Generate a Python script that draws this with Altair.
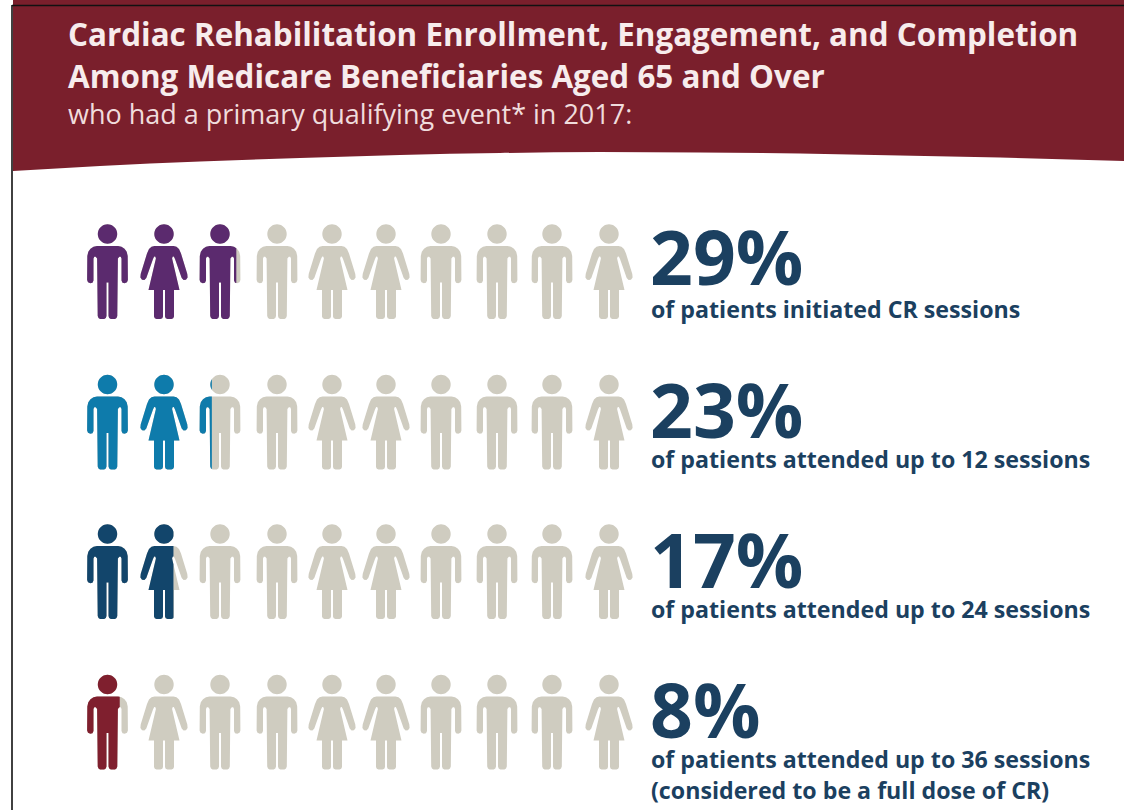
import math
import altair as alt
import pandas as pd

# ---- content ----
TITLE_LINES = [
    "Cardiac Rehabilitation Enrollment, Engagement, and Completion",
    "Among Medicare Beneficiaries Aged 65 and Over",
]
SUBTITLE = "who had a primary qualifying event* in 2017:"
PERCENTS = [29, 23, 17, 8]
CAPTIONS = [
    "of patients initiated CR sessions",
    "of patients attended up to 12 sessions",
    "of patients attended up to 24 sessions",
    "of patients attended up to 36 sessions",
]
EXTRA_CAPTION = "(considered to be a full dose of CR)"
GENDERS = ["m", "f", "m", "m", "f", "f", "m", "m", "m", "f"]
ROW_KEYS = ["a", "b", "c", "d"]
ROW_COLORS = ["#5b2a6e", "#0e7bab", "#12456b", "#7f1f2e"]

# ---- palette and layout ----
BANNER = "#7a1f2c"
IDLE = "#cfccc0"
INK = "#1b4060"
FONT = "Open Sans"
W, H = 1124, 810
COL_X = [107.5, 164, 220, 277, 332, 386, 441, 497, 552, 609]
ROW_Y = [271.5, 422, 571.5, 722]
NUMBER_BASE = [285, 438, 588, 738]
CAPTION_BASE = [318, 468, 618, 768]
BANNER_X = [13, 100, 200, 300, 400, 500, 600, 700, 800, 900, 1000, 1124]
BANNER_EDGE = [171, 166, 161.5, 158, 155, 153, 152, 152.5, 153.5, 155.5, 157.5, 161]

# ---- pictogram outlines, in pixels around the figure's centre ----
def mirrored(half):
    return half + [(-x, y) for x, y in reversed(half) if x != 0]

HEAD = [(9.7 * math.cos(i * math.pi / 20), -37.5 + 9.7 * math.sin(i * math.pi / 20)) for i in range(40)]
MALE = mirrored([
    (0, -25.5), (10.5, -25.5), (14, -24.8), (17, -22.8), (19.2, -19.8), (20.2, -15.5), (20.4, 8.5),
    (19.5, 10.8), (17.2, 11.8), (15, 11.2), (14, 9), (14, -13), (13.2, -14.8), (11.8, -14.8),
    (10.4, -13), (9.8, 44.5), (9, 46.6), (7.5, 47.5), (3.3, 47.5), (1.7, 46.6), (1, 44.5), (1, 11), (0, 11),
])
FEMALE = mirrored([
    (0, -25.5), (9.5, -25.5), (12.5, -24.8), (15, -22.5), (17, -18), (23.3, 2.5), (23.6, 6), (22, 8.3),
    (19.6, 8.5), (17.7, 6.5), (11, -12.5), (9.8, -15), (8.6, -14.8), (8.1, -13), (15.5, 18.5), (10, 18.5),
    (10, 45), (9.2, 46.8), (7.5, 47.5), (3.5, 47.5), (1.7, 46.8), (1, 45), (1, 18.5), (0, 18.5),
])
OUTLINES = {"m": MALE, "f": FEMALE}


def clip_right(poly, limit):
    """Keep the part of a polygon to the left of a vertical line."""
    kept = []
    for i, (x0, y0) in enumerate(poly):
        x1, y1 = poly[(i + 1) % len(poly)]
        if x0 <= limit:
            kept.append((x0, y0))
        if (x0 <= limit) != (x1 <= limit):
            t = (limit - x0) / (x1 - x0)
            kept.append((limit, y0 + t * (y1 - y0)))
    return kept


def to_path(polys):
    parts = []
    for poly in polys:
        if poly:
            parts.append("M" + "L".join(f"{x:.2f} {y:.2f}" for x, y in poly) + "Z")
    return "".join(parts)


def figure_path(gender, share):
    body = OUTLINES[gender]
    reach = max(x for x, _ in body)
    limit = -reach + 2 * reach * share
    return to_path([clip_right(HEAD, limit), clip_right(body, limit)])


# ---- one idle figure per seat, with the coloured share of each row on top ----
idle, lit = [], []
for r, (row, pct) in enumerate(zip(ROW_KEYS, PERCENTS)):
    for col, gender in enumerate(GENDERS):
        idle.append({"col": col, "r": r, "row": row, "path": figure_path(gender, 1.0)})
        share = min(max(pct / 10 - col, 0), 1)
        if share > 0:
            lit.append({"col": col, "r": r, "row": row, "path": figure_path(gender, share)})

x_col = alt.X("col:Q", axis=None, scale=alt.Scale(domain=list(range(10)), range=COL_X))
y_row = alt.Y("r:Q", axis=None, scale=alt.Scale(domain=list(range(4)), range=ROW_Y))

idle_layer = alt.Chart(pd.DataFrame(idle)).mark_point(
    filled=True, size=4, opacity=1, strokeWidth=0, color=IDLE
).encode(x=x_col, y=y_row, shape=alt.Shape("path:N", scale=None))

lit_layer = alt.Chart(pd.DataFrame(lit)).mark_point(
    filled=True, size=4, opacity=1, strokeWidth=0
).encode(
    x=x_col,
    y=y_row,
    shape=alt.Shape("path:N", scale=None),
    color=alt.Color("row:N", legend=None, scale=alt.Scale(domain=ROW_KEYS, range=ROW_COLORS)),
)

# ---- banner and frame ----
banner = alt.Chart(pd.DataFrame({"x": BANNER_X, "edge": BANNER_EDGE})).mark_area(
    color=BANNER, interpolate="monotone", opacity=1
).encode(
    x=alt.X("x:Q", axis=None, scale=alt.Scale(domain=[0, W], range=[0, W])),
    y=alt.Y("edge:Q", axis=None, scale=alt.Scale(domain=[0, H], range=[0, H])),
    y2=alt.value(6),
)
frame_left = alt.Chart(pd.DataFrame({"k": [0]})).mark_rule(color="#111111", strokeWidth=1.6).encode(
    x=alt.value(12), y=alt.value(5), y2=alt.value(H)
)
frame_top = alt.Chart(pd.DataFrame({"k": [0]})).mark_rule(color="#111111", strokeWidth=1.6).encode(
    x=alt.value(12), x2=alt.value(W), y=alt.value(5.5)
)


def label(text, x, y, size, color, weight="bold"):
    return alt.Chart(pd.DataFrame({"t": [text]})).mark_text(
        font=FONT, fontSize=size, fontWeight=weight, color=color, align="left", baseline="alphabetic"
    ).encode(text="t:N", x=alt.value(x), y=alt.value(y))


texts = [
    label(TITLE_LINES[0], 68, 46, 31.4, "#f7ecec"),
    label(TITLE_LINES[1], 68, 88, 31.4, "#f7ecec"),
    label(SUBTITLE, 68, 123.5, 27, "#f0dcdc", "normal"),
]
for pct, cap, nb, cb in zip(PERCENTS, CAPTIONS, NUMBER_BASE, CAPTION_BASE):
    texts.append(label(f"{pct}%", 650, nb, 75, INK))
    texts.append(label(cap, 651, cb, 23.2, INK))
texts.append(label(EXTRA_CAPTION, 651, 799, 23.2, INK))

chart = alt.layer(
    banner, frame_left, frame_top, idle_layer, lit_layer, *texts
).resolve_scale(x="independent", y="independent", color="independent").properties(
    width=W, height=H, padding=0, background="white", autosize=alt.AutoSizeParams(type="none")
).configure_view(stroke=None)

chart.save("out.html", embed_options={"renderer": "svg", "actions": False})
